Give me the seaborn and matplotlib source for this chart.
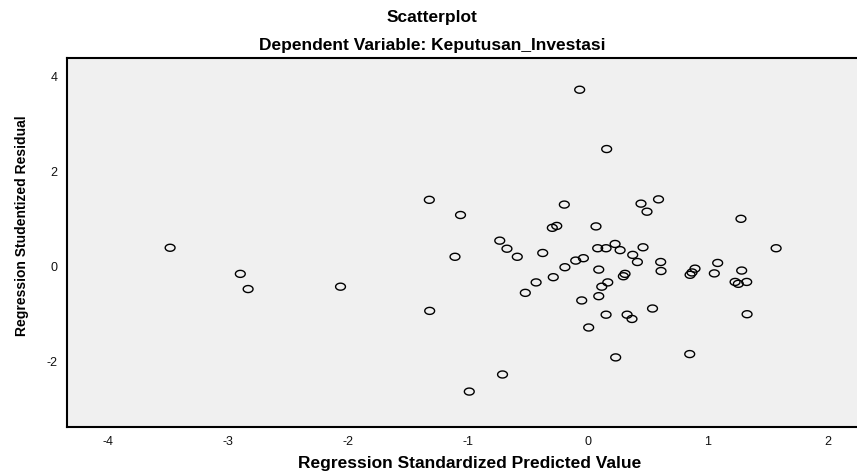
import numpy as np
import pandas as pd
import matplotlib
matplotlib.use('Agg')
import matplotlib.pyplot as plt
from matplotlib.path import Path
from matplotlib.markers import MarkerStyle
import seaborn as sns

# --- Data ---
pred_value = [
    -3.48, -2.895, -2.83, -2.06, -0.067, 0.158, -1.32, -1.06, -0.195, -0.295,
    -0.258, 0.069, -1.106, -0.733, -0.673, -0.587, -0.375, 0.083, 0.153, -0.10,
    -0.036, -0.19, 0.092, -0.287, -0.43, -0.52, 0.167, 0.117, 0.092, -0.05,
    0.153, 0.008, -1.317, -0.71, -0.987, 0.59, 0.444, 0.494, 1.277, 1.57,
    0.228, 0.27, 0.461, 0.375, 0.414, 0.608, 0.611, 0.894, 0.869, 0.853,
    1.055, 1.083, 1.283, 1.228, 1.255, 1.325, 1.328, 0.311, 0.297, 0.328,
    0.369, 0.54, 0.233, 0.85,
]
stud_resid = [
    0.40, -0.15, -0.47, -0.42, 3.73, 2.48, 1.41, 1.09, 1.31, 0.82,
    0.86, 0.85, 0.21, 0.55, 0.38, 0.21, 0.29, 0.39, 0.39, 0.13,
    0.18, -0.01, -0.06, -0.22, -0.33, -0.55, -0.33, -0.42, -0.62, -0.71,
    -1.01, -1.28, -0.93, -2.27, -2.63, 1.42, 1.33, 1.16, 1.01, 0.39,
    0.48, 0.35, 0.41, 0.25, 0.10, 0.10, -0.09, -0.04, -0.12, -0.17,
    -0.14, 0.08, -0.08, -0.32, -0.36, -0.32, -1.00, -0.15, -0.20, -1.01,
    -1.10, -0.88, -1.91, -1.84,
]
x_ticks = [-4, -3, -2, -1, 0, 1, 2]
y_ticks = [-2, 0, 2, 4]

df = pd.DataFrame({'pred': pred_value, 'resid': stud_resid})

# --- Style ---
sns.set_style('white')
plt.rcParams['font.family'] = ['Liberation Sans', 'DejaVu Sans']
plt.rcParams['axes.unicode_minus'] = False
plt.rcParams['text.color'] = 'black'
plt.rcParams['axes.labelcolor'] = 'black'

fig = plt.figure(figsize=(8.57, 4.74), dpi=100)
ax = fig.add_axes([0.0778, 0.0998, 0.9222, 0.777])
ax.set_facecolor('#f0f0f0')

# open, slightly flattened circles like the SPSS output
t = np.linspace(0, 2 * np.pi, 60)
ring = Path(np.column_stack([1.4 * np.cos(t), np.sin(t)]), closed=True)

sns.scatterplot(data=df, x='pred', y='resid', ax=ax, marker=MarkerStyle(ring),
                s=50, facecolor='none', edgecolor='black', linewidth=1.0)

ax.set_xlim(-4.342, 2.244)
ax.set_ylim(-3.37, 4.39)
ax.set_xticks(x_ticks)
ax.set_yticks(y_ticks)
ax.tick_params(direction='out', length=4.5, width=1.2, color='black',
               labelsize=9, labelcolor='#111111', pad=2)

for side in ['left', 'bottom', 'top']:
    ax.spines[side].set_color('black')
    ax.spines[side].set_linewidth(1.5)
ax.spines['right'].set_visible(False)

ax.set_xlabel('Regression Standardized Predicted Value', fontsize=12.5,
              fontweight='bold', va='center')
ax.xaxis.set_label_coords(0.51, -0.099)
ax.set_ylabel('Regression Studentized Residual', fontsize=10,
              fontweight='bold', va='center')
ax.yaxis.set_label_coords(-0.057, 0.545)

fig.text(0.504, 0.964, 'Scatterplot', ha='center', va='center',
         fontsize=12.5, fontweight='bold')
fig.text(0.504, 0.905, 'Dependent Variable: Keputusan_Investasi', ha='center',
         va='center', fontsize=12.5, fontweight='bold')

fig.savefig('out.png', dpi=100)
plt.close(fig)
